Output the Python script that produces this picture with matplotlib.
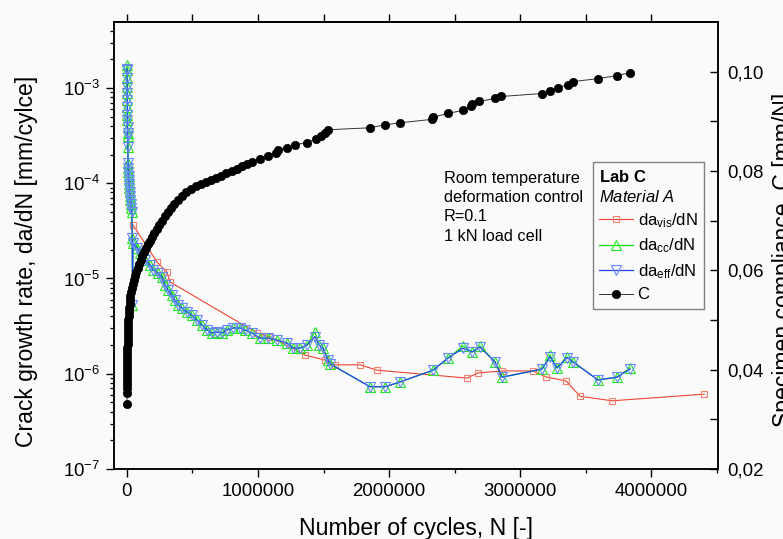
import matplotlib
matplotlib.use('Agg')
import matplotlib.pyplot as plt
from matplotlib.lines import Line2D
from matplotlib.ticker import MultipleLocator, FixedLocator, NullFormatter

plt.rcParams['font.family'] = ['Liberation Sans', 'DejaVu Sans']
plt.rcParams['mathtext.fontset'] = 'custom'
plt.rcParams['mathtext.rm'] = 'Liberation Sans'
plt.rcParams['mathtext.it'] = 'Liberation Sans:italic'
plt.rcParams['mathtext.bf'] = 'Liberation Sans:bold'

# compliance C vs cycles (right axis)
C_N = [0, 0, 0, 0, 0, 0, 0, 0, 2300, 2300, 2300, 3800, 3800, 5300, 5300, 7600, 7600, 7600,
       9900, 11500, 13000, 15300, 17600, 20600, 22900, 26700, 30500, 38200, 45800, 53400,
       61100, 72500, 84000, 95400, 106900, 118300, 129800, 145000, 160300, 175600, 190800,
       209900, 229000, 248100, 267200, 290100, 313000, 335900, 362600, 389300, 419800, 454200,
       488500, 526700, 564900, 603000, 641200, 679400, 717500, 755700, 801500, 839700, 877900,
       916000, 954200, 1015300, 1076300, 1137400, 1152700, 1221400, 1282500, 1374100, 1442800,
       1480900, 1511500, 1534400, 1855000, 1969500, 2084000, 2328300, 2335900, 2450400, 2564900,
       2626000, 2633600, 2687000, 2809200, 2855000, 3168000, 3229000, 3290100, 3366400, 3404600,
       3595400, 3740500, 3839700]
C_val = [0.0331, 0.0353, 0.0363, 0.0371, 0.0379, 0.0387, 0.0395, 0.0403, 0.0411, 0.0419, 0.0427,
         0.0435, 0.0443, 0.0451, 0.0459, 0.0467, 0.0475, 0.0483, 0.0491, 0.0499, 0.0508, 0.0516,
         0.0524, 0.0532, 0.0540, 0.0548, 0.0556, 0.0564, 0.0572, 0.0580, 0.0588, 0.0596, 0.0604,
         0.0612, 0.0620, 0.0628, 0.0636, 0.0644, 0.0652, 0.0660, 0.0668, 0.0676, 0.0684, 0.0692,
         0.0700, 0.0709, 0.0717, 0.0725, 0.0733, 0.0741, 0.0749, 0.0757, 0.0763, 0.0769, 0.0773,
         0.0777, 0.0781, 0.0785, 0.0789, 0.0795, 0.0799, 0.0805, 0.0811, 0.0815, 0.0819, 0.0825,
         0.0831, 0.0837, 0.0843, 0.0847, 0.0853, 0.0857, 0.0865, 0.0871, 0.0877, 0.0883, 0.0887,
         0.0893, 0.0897, 0.0904, 0.0908, 0.0916, 0.0922, 0.0930, 0.0934, 0.0940, 0.0946, 0.0950,
         0.0956, 0.0962, 0.0968, 0.0974, 0.0980, 0.0986, 0.0992, 0.0998]

# da/dN from compliance (cc) and effective (eff)
cc_N = [0, 500, 1000, 1500, 2000, 2500, 3000, 3500, 4000, 4500, 5000, 6000, 7000,
        8000, 9000, 10000, 12000, 14000, 16000, 18000, 21000, 23000, 26000, 29000, 33000, 37000,
        40000, 42000, 46000, 76000, 99000, 137000, 176000, 199000, 237000, 267000, 290000,
        313000, 344000, 366000, 389000, 420000, 458000, 496000, 534000, 573000, 611000, 649000,
        687000, 725000, 763000, 809000, 863000, 901000, 954000, 1015000, 1076000, 1145000,
        1221000, 1267000, 1321000, 1374000, 1435000, 1466000, 1496000, 1534000, 1550000,
        1855000, 1970000, 2084000, 2336000, 2450000, 2565000, 2634000, 2695000, 2809000,
        2863000, 3168000, 3229000, 3283000, 3359000, 3405000, 3595000, 3740000, 3840000]
cc_val = [1.75e-3, 1.55e-3, 1.27e-3, 1.02e-3, 8.9e-4, 7.5e-4, 6.3e-4, 5.2e-4, 4.6e-4, 3.9e-4,
          3.4e-4, 3.1e-4, 2.4e-4,
          1.63e-4, 1.45e-4, 1.31e-4, 1.19e-4, 1.08e-4, 9.8e-5, 8.9e-5, 8.1e-5, 7.3e-5, 6.7e-5,
          6.1e-5, 5.5e-5, 5.0e-5,
          2.66e-5, 5.3e-6, 2.36e-5, 2.09e-5, 1.85e-5, 1.56e-5, 1.39e-5, 1.23e-5, 1.14e-5, 1.04e-5,
          8.6e-6, 7.6e-6, 6.7e-6, 5.9e-6, 5.3e-6, 4.9e-6, 4.45e-6, 4.14e-6, 3.66e-6, 3.25e-6,
          2.88e-6, 2.68e-6, 2.74e-6, 2.68e-6, 2.88e-6, 3.02e-6, 3.02e-6, 2.88e-6, 2.68e-6,
          2.37e-6, 2.37e-6, 2.26e-6, 2.10e-6, 1.86e-6, 1.86e-6, 2.0e-6, 2.74e-6, 2.0e-6,
          1.86e-6, 1.39e-6, 1.27e-6, 7.3e-7, 7.3e-7, 8.2e-7, 1.09e-6, 1.46e-6, 1.95e-6, 1.69e-6,
          1.95e-6, 1.33e-6, 9.2e-7, 1.12e-6, 1.57e-6, 1.15e-6, 1.50e-6, 1.33e-6, 8.6e-7, 9.2e-7,
          1.15e-6]
eff_N = cc_N
eff_val = [1.6e-3, 1.55e-3, 1.27e-3, 1.02e-3, 8.9e-4, 7.5e-4, 6.3e-4, 5.2e-4, 4.6e-4, 3.9e-4,
           3.4e-4, 3.1e-4, 2.4e-4,
           1.63e-4, 1.45e-4, 1.31e-4, 1.19e-4, 1.08e-4, 9.8e-5, 8.9e-5, 8.1e-5, 7.3e-5, 6.7e-5,
           6.1e-5, 5.5e-5, 5.0e-5,
           2.66e-5, 5.3e-6, 2.36e-5, 2.09e-5, 1.85e-5, 1.56e-5, 1.39e-5, 1.23e-5, 1.14e-5, 1.04e-5,
           8.6e-6, 7.6e-6, 6.7e-6, 5.9e-6, 5.3e-6, 4.9e-6, 4.45e-6, 4.14e-6, 3.66e-6, 3.25e-6,
           2.88e-6, 2.68e-6, 2.74e-6, 2.68e-6, 2.88e-6, 3.02e-6, 3.02e-6, 2.88e-6, 2.68e-6,
           2.37e-6, 2.37e-6, 2.26e-6, 2.10e-6, 1.86e-6, 1.86e-6, 2.0e-6, 2.45e-6, 2.0e-6,
           1.86e-6, 1.39e-6, 1.27e-6, 7.3e-7, 7.3e-7, 8.2e-7, 1.09e-6, 1.46e-6, 1.85e-6, 1.69e-6,
           1.9e-6, 1.33e-6, 9.2e-7, 1.12e-6, 1.5e-6, 1.15e-6, 1.48e-6, 1.33e-6, 8.6e-7, 9.2e-7,
           1.12e-6]

# visually measured da/dN
vis_N = [46000, 229000, 305000, 328000, 992000, 1092000, 1359000, 1512000, 1588000, 1779000,
         1909000, 2596000, 2680000, 2863000, 3099000, 3199000, 3351000, 3458000, 3703000, 4405000]
vis_val = [3.65e-5, 1.49e-5, 1.17e-5, 9.2e-6, 2.68e-6, 2.43e-6, 1.57e-6, 1.39e-6, 1.24e-6,
           1.24e-6, 1.09e-6, 9.0e-7, 1.02e-6, 1.07e-6, 1.07e-6, 9.25e-7, 8.4e-7, 5.8e-7,
           5.2e-7, 6.1e-7]

bg = '#fafafa'
fig = plt.figure(figsize=(7.83, 5.39), dpi=100, facecolor=bg)
ax = fig.add_axes([0.1456, 0.1299, 0.7714, 0.8293])
ax.set_facecolor(bg)

vis_style = dict(color='#ee4433', lw=0.8, marker='s', ms=5, mfc='none', mec='#f08070', mew=0.8)
cc_style = dict(color='#11dd11', lw=0.9, marker='^', ms=7.5, mfc='none', mec='#22e822', mew=0.8)
eff_style = dict(color='#2244ee', lw=0.9, marker='v', ms=7, mfc='none', mec='#6688ff', mew=0.8)
c_style = dict(color='#333333', lw=0.7, marker='o', ms=6, mfc='black', mec='black', mew=0.5)

ax.plot(vis_N, vis_val, **vis_style)
ax.plot(cc_N, cc_val, **cc_style)
ax.plot(eff_N, eff_val, **eff_style)

ax.set_yscale('log')
ax.set_ylim(1e-7, 4.93e-3)
ax.set_xlim(-99000, 4511000)
ax.xaxis.set_major_locator(MultipleLocator(1000000))
ax.xaxis.set_minor_locator(MultipleLocator(500000))
ax.ticklabel_format(axis='x', style='plain', useOffset=False)
ax.tick_params(which='major', direction='out', length=5.8, width=1.0, labelsize=13.4, pad=4)
ax.tick_params(which='minor', direction='out', length=3.2, width=0.9)
ax.tick_params(axis='y', right=False, which='both')
for s in ax.spines.values():
    s.set_linewidth(1.1)

top = ax.secondary_xaxis('top')
top.xaxis.set_major_locator(FixedLocator([0, 500000, 1000000, 1500000, 2000000, 2500000,
                                          3000000, 3500000, 4000000]))
top.xaxis.set_major_formatter(NullFormatter())
top.tick_params(direction='out', length=5.8, width=1.0)
top.spines['top'].set_linewidth(1.1)

ax2 = ax.twinx()
ax2.plot(C_N, C_val, **c_style)
ax2.set_ylim(0.02, 0.11)
ax2.set_yticks([0.02, 0.04, 0.06, 0.08, 0.10], labels=['0,02', '0,04', '0,06', '0,08', '0,10'])
ax2.yaxis.set_minor_locator(FixedLocator([0.03, 0.05, 0.07, 0.09]))
ax2.tick_params(which='major', direction='in', length=5.8, width=1.0, labelsize=13.4, pad=7)
ax2.tick_params(which='minor', direction='in', length=5.8, width=1.0)
for s in ax2.spines.values():
    s.set_linewidth(1.1)

handles = [Line2D([], [], **vis_style), Line2D([], [], **cc_style),
           Line2D([], [], **eff_style), Line2D([], [], **c_style)]
labels = [r'da$_\mathrm{vis}$/dN', r'da$_\mathrm{cc}$/dN', r'da$_\mathrm{eff}$/dN', 'C']
leg = ax2.legend(handles, labels, title=r'$\bf{Lab\ C}$' + '\n' + r'$\it{Material\ A}$',
                 title_fontsize=12, fontsize=12, alignment='left',
                 loc='upper right', bbox_to_anchor=(704 / 783, 1 - 162 / 539),
                 bbox_transform=fig.transFigure, borderaxespad=0, frameon=True,
                 fancybox=False, edgecolor='#808080', facecolor=bg, framealpha=1,
                 handlelength=2.0, handletextpad=0.3, labelspacing=0.4, borderpad=0.4)
leg.get_frame().set_linewidth(1.0)
leg.get_title().set_linespacing(1.3)

fig.text(444 / 783, 1 - 171 / 539,
         'Room temperature\ndeformation control\nR=0.1\n1 kN load cell',
         fontsize=11.7, va='top', ha='left', linespacing=1.35)

fig.text(27 / 783, 1 - 261 / 539, 'Crack growth rate, da/dN [mm/cylce]',
         rotation=90, ha='center', va='center', fontsize=16.6)
fig.text(772 / 783, 1 - 260 / 539, 'Specimen compliance, C [mm/N]',
         rotation=90, ha='left', va='center', fontsize=16.6)
fig.text(416 / 783, 1 - 535 / 539, 'Number of cycles, N [-]',
         ha='center', va='baseline', fontsize=16.6)

fig.savefig('out.png', dpi=100, facecolor=bg)
